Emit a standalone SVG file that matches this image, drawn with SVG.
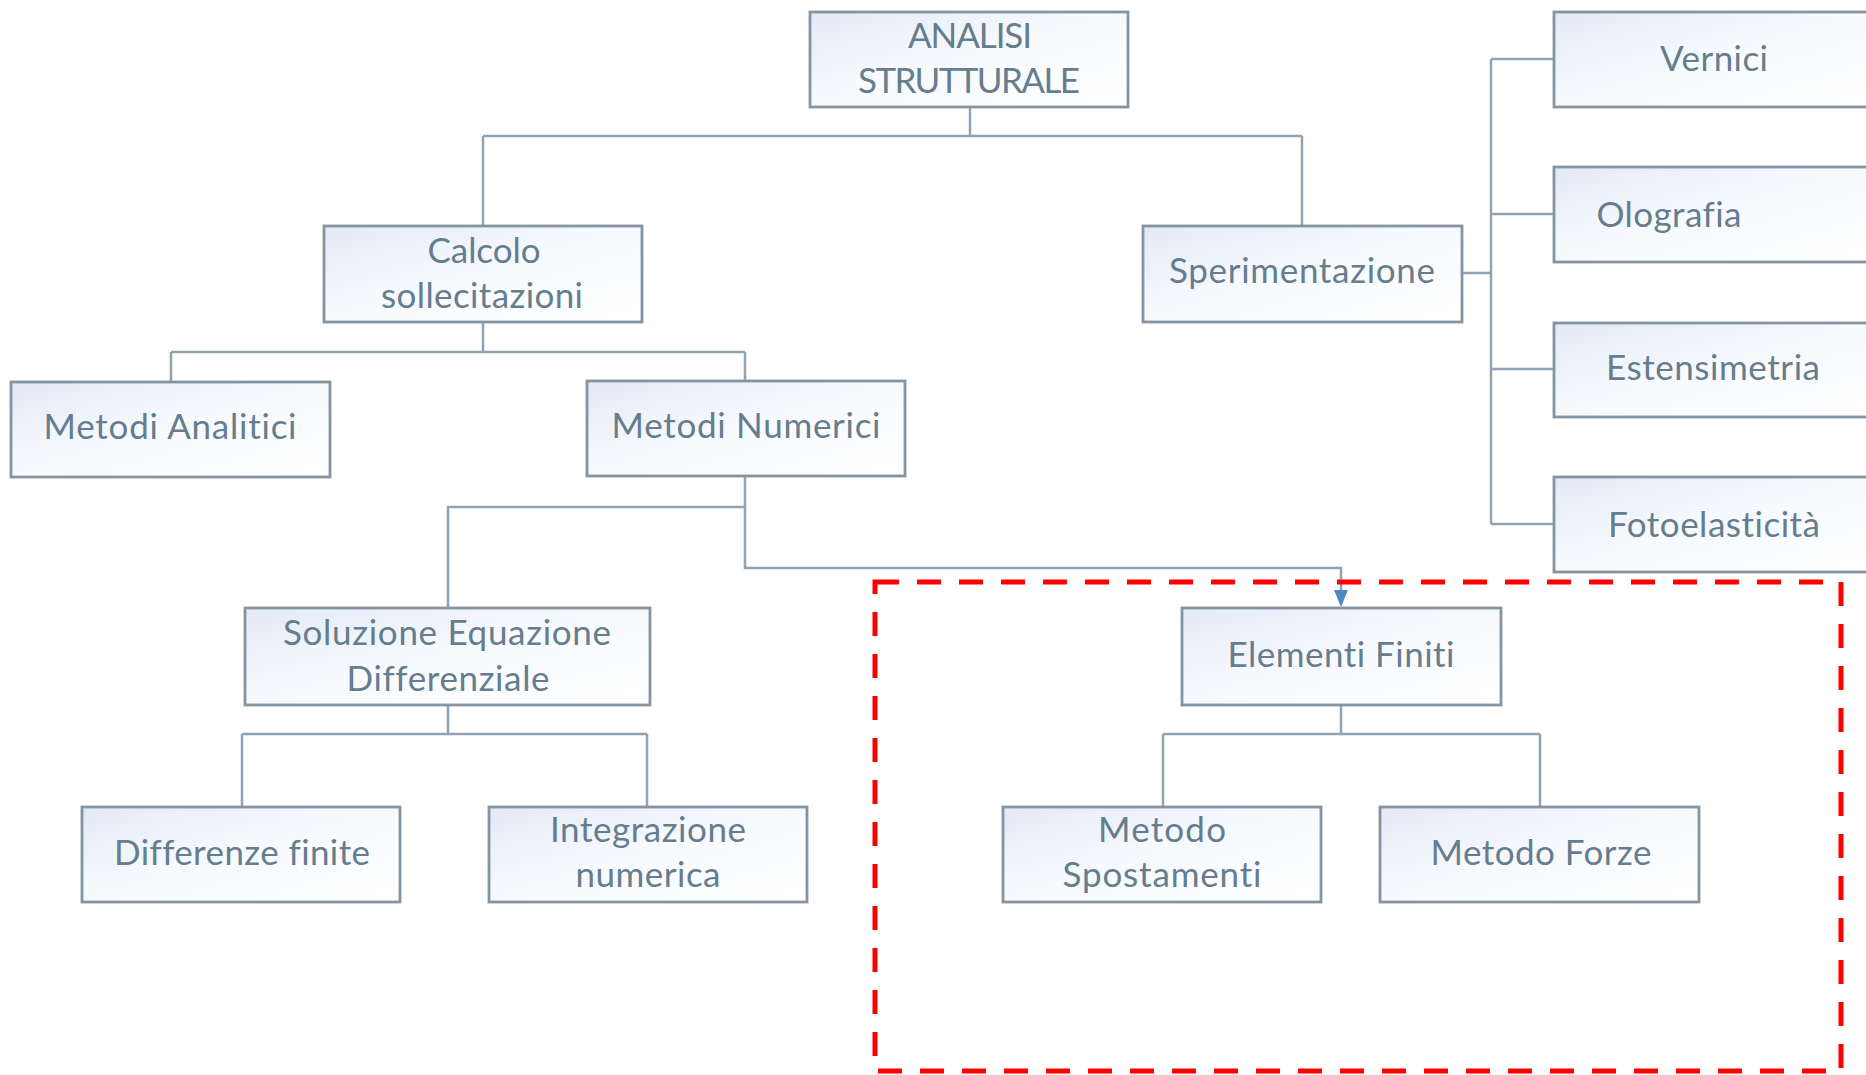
<svg xmlns="http://www.w3.org/2000/svg" width="1866" height="1075" viewBox="0 0 1866 1075">
<defs>
<linearGradient id="boxFill" x1="0" y1="0" x2="1" y2="1">
<stop offset="0" stop-color="#e3eaf6"/>
<stop offset="0.45" stop-color="#f6f9fd"/>
<stop offset="1" stop-color="#ffffff"/>
</linearGradient>
</defs>
<style>
.box{fill:url(#boxFill);stroke:#8494a0;stroke-width:2.8}
.lbl{font-family:Lato,"Liberation Sans","DejaVu Sans",sans-serif;font-size:35px;fill:#657d8e;text-anchor:middle;font-variant-ligatures:none;font-feature-settings:"liga" 0,"clig" 0}
.conn{fill:none;stroke:#8fa3b4;stroke-width:2.5}
.hl{fill:none;stroke:#ff0000;stroke-width:5;stroke-dasharray:24 18}
</style>
<rect width="1866" height="1075" fill="#ffffff"/>
<g id="connectors">
<path class="conn" d="M970 107V136M483 136H1302M483 136V226M1302 136V226"/>
<path class="conn" d="M483 322V352M171 352H745M171 352V382M745 352V381"/>
<path class="conn" d="M1462 273H1491M1491 59V524M1491 59H1554M1491 214H1554M1491 369H1554M1491 524H1554"/>
<path class="conn" d="M745 476V568H1341V592M745 507H448V608"/>
<path class="conn" d="M448 705V734M242 734H647M242 734V807M647 734V807"/>
<path class="conn" d="M1341 705V734M1163 734H1540M1163 734V807M1540 734V807"/>
<polygon points="1334,590 1348,590 1341,607" fill="#4f86c6"/>
</g>
<g id="analisi"><rect class="box" x="810" y="12" width="318" height="95"/><text class="lbl" x="970" y="48" textLength="124">ANALISI</text><text class="lbl" x="969" y="93" textLength="222">STRUTTURALE</text></g>
<g id="calcolo"><rect class="box" x="324" y="226" width="318" height="96"/><text class="lbl" x="484" y="263" textLength="113">Calcolo</text><text class="lbl" x="482" y="308" textLength="202">sollecitazioni</text></g>
<g id="sperimentazione"><rect class="box" x="1143" y="226" width="319" height="96"/><text class="lbl" x="1302" y="283" textLength="266">Sperimentazione</text></g>
<g id="vernici"><rect class="box" x="1554" y="12" width="320" height="95"/><text class="lbl" x="1714" y="71" textLength="108">Vernici</text></g>
<g id="olografia"><rect class="box" x="1554" y="167" width="320" height="95"/><text class="lbl" x="1669" y="227" textLength="145">Olografia</text></g>
<g id="estensimetria"><rect class="box" x="1554" y="323" width="320" height="94"/><text class="lbl" x="1713" y="380" textLength="214">Estensimetria</text></g>
<g id="fotoelasticita"><rect class="box" x="1554" y="477" width="320" height="95"/><text class="lbl" x="1714" y="537" textLength="212">Fotoelasticità</text></g>
<g id="metodi-analitici"><rect class="box" x="11" y="382" width="319" height="95"/><text class="lbl" x="170" y="439" textLength="253">Metodi Analitici</text></g>
<g id="metodi-numerici"><rect class="box" x="587" y="381" width="318" height="95"/><text class="lbl" x="746" y="438" textLength="269">Metodi Numerici</text></g>
<g id="soluzione"><rect class="box" x="245" y="608" width="405" height="97"/><text class="lbl" x="447" y="645" textLength="328">Soluzione Equazione</text><text class="lbl" x="448" y="691" textLength="203">Differenziale</text></g>
<g id="differenze-finite"><rect class="box" x="82" y="807" width="318" height="95"/><text class="lbl" x="242" y="865" textLength="256">Differenze finite</text></g>
<g id="integrazione"><rect class="box" x="489" y="807" width="318" height="95"/><text class="lbl" x="648" y="842" textLength="196">Integrazione</text><text class="lbl" x="648" y="887" textLength="145">numerica</text></g>
<g id="elementi-finiti"><rect class="box" x="1182" y="608" width="319" height="97"/><text class="lbl" x="1341" y="667" textLength="227">Elementi Finiti</text></g>
<g id="metodo-spostamenti"><rect class="box" x="1003" y="807" width="318" height="95"/><text class="lbl" x="1162" y="842" textLength="128">Metodo</text><text class="lbl" x="1162" y="887" textLength="199">Spostamenti</text></g>
<g id="metodo-forze"><rect class="box" x="1380" y="807" width="319" height="95"/><text class="lbl" x="1541" y="865" textLength="221">Metodo Forze</text></g>
<rect class="hl" x="875" y="582" width="966" height="489"/>
</svg>
